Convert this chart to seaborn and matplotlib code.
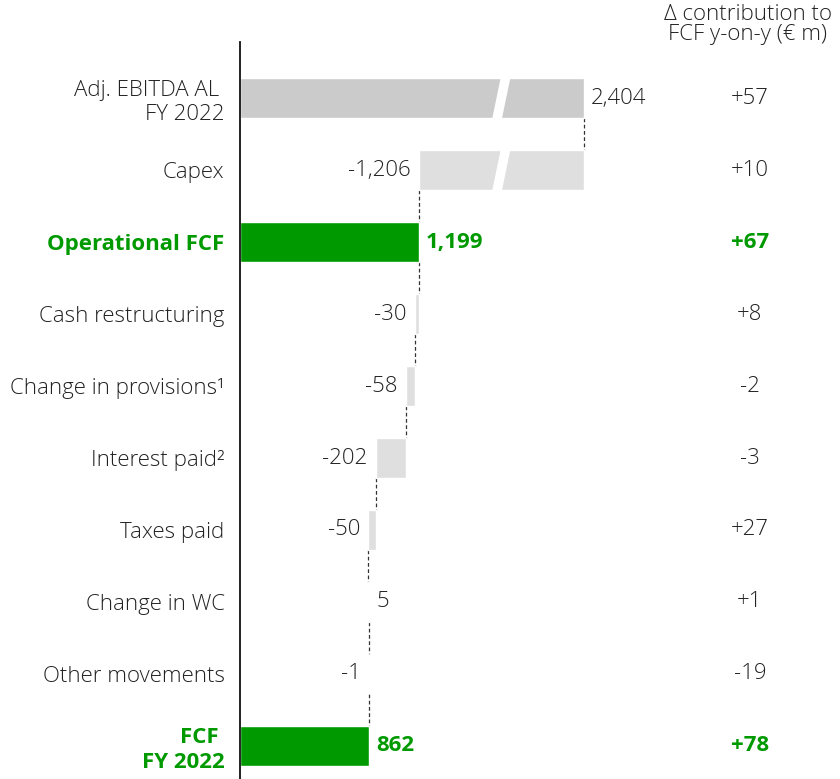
import numpy as np
import matplotlib.pyplot as plt
import matplotlib.transforms as mtrans
from matplotlib.patches import Polygon
import seaborn as sns

sns.set_theme(style='white')
plt.rcParams['font.family'] = ['Open Sans', 'DejaVu Sans']

# data
labels = ['Adj. EBITDA AL \nFY 2022', 'Capex', 'Operational FCF', 'Cash restructuring',
          'Change in provisions¹', 'Interest paid²', 'Taxes paid', 'Change in WC',
          'Other movements', 'FCF \nFY 2022']
values = [2404, -1206, 1199, -30, -58, -202, -50, 5, -1, 862]
kinds = ['total', 'step', 'total', 'step', 'step', 'step', 'step', 'step', 'step', 'total']
value_labels = ['2,404', '-1,206', '1,199', '-30', '-58', '-202', '-50', '5', '-1', '862']
yoy = ['+57', '+10', '+67', '+8', '-2', '-3', '+27', '+1', '-19', '+78']
highlight = [False, False, True, False, False, False, False, False, False, True]

GREEN = '#009a00'
TXT = '#222222'
FS = 16
BREAK_AT = 1850
BREAK_K = 0.818

def fwd(x):
    x = np.asarray(x, dtype=float)
    return np.where(x <= BREAK_AT, x, BREAK_AT + (x - BREAK_AT) * BREAK_K)

def inv(x):
    x = np.asarray(x, dtype=float)
    return np.where(x <= BREAK_AT, x, BREAK_AT + (x - BREAK_AT) / BREAK_K)

fig = plt.figure(figsize=(8.4, 7.79), dpi=100)
ax = fig.add_axes([240 / 840, 0, 420 / 840, 737 / 779])
ax.set_xscale('function', functions=(fwd, inv))

h = 0.56
rows = np.arange(len(values))
lefts, rights = [], []
run = 0
for v, k in zip(values, kinds):
    if k == 'total':
        lefts.append(0); rights.append(v); run = v
    else:
        lefts.append(run); rights.append(run + v); run += v

colors = []
for i, k in enumerate(kinds):
    if highlight[i]:
        colors.append(GREEN)
    elif i == 0:
        colors.append('#cbcbcb')
    else:
        colors.append('#dfdfdf')

widths = [r - l for l, r in zip(lefts, rights)]
ax.barh(rows, widths, left=lefts, height=h, color=colors, zorder=2)

# connectors
for i in range(len(values) - 1):
    ax.plot([rights[i], rights[i]], [i + h / 2, i + 1 - h / 2], color='#333333',
            lw=0.9, ls=(0, (3, 2)), zorder=1)

# axis break stripes on the two long bars
for i in (0, 1):
    ax.add_patch(Polygon([(1687, i + h / 2 + 0.01), (1752, i + h / 2 + 0.01),
                          (1810, i - h / 2 - 0.01), (1745, i - h / 2 - 0.01)],
                         closed=True, facecolor='white', edgecolor='none', zorder=3))

# value labels
for i, (l, r) in enumerate(zip(lefts, rights)):
    kw = dict(fontsize=FS, va='center', color=GREEN if highlight[i] else TXT,
              fontweight='bold' if highlight[i] else 'light', textcoords='offset points')
    if values[i] >= 0:
        ax.annotate(value_labels[i], (max(l, r), i), xytext=(5, 0), ha='left', **kw)
    else:
        ax.annotate(value_labels[i], (min(l, r), i), xytext=(-6, 0), ha='right', **kw)

# y-on-y column
tr = mtrans.blended_transform_factory(fig.transFigure, ax.transData)
for i, t in enumerate(yoy):
    ax.text(750 / 840, i, t, transform=tr, ha='center', va='center', fontsize=FS,
            color=GREEN if highlight[i] else TXT,
            fontweight='bold' if highlight[i] else 'light')
fig.text(748 / 840, 1 - 4 / 779, 'Δ contribution to\nFCF y-on-y (€ m)', ha='center',
         va='top', fontsize=FS, color=TXT, linespacing=0.95, fontweight='light')

ax.set_yticks(rows)
ax.set_yticklabels(labels, fontsize=FS, color=TXT, linespacing=1.2, fontweight='light')
for lab, hl in zip(ax.get_yticklabels(), highlight):
    if hl:
        lab.set_color(GREEN)
        lab.set_fontweight('bold')
ax.tick_params(axis='y', length=0, pad=11)
ax.set_xticks([])
ax.set_xlim(0, 3024)
ax.set_ylim(9.46, -0.78)
sns.despine(ax=ax, top=True, right=True, bottom=True)
ax.spines['left'].set_color('#111111')
ax.spines['left'].set_linewidth(1.3)

fig.savefig('out.png', dpi=100)
